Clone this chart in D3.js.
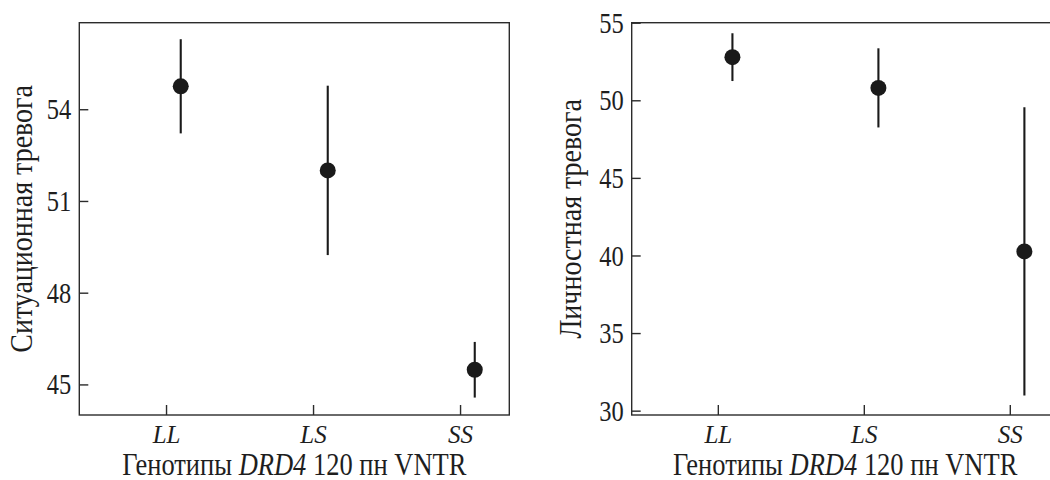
<!DOCTYPE html>
<html>
<head>
<meta charset="utf-8">
<script src="https://cdn.jsdelivr.net/npm/d3@7"></script>
<style>
  body { margin: 0; background: #fff; }
</style>
</head>
<body>
<div class="chart"></div>
<script>
// genotype groups
var genotypes = ["LL", "LS", "SS"];

// left panel: state anxiety
var stateMean = [54.75, 52.0, 45.48];
var stateErr = [1.54, 2.77, 0.91];
var stateTicks = [45, 48, 51, 54];

// right panel: trait anxiety
var traitMean = [52.78, 50.8, 40.26];
var traitErr = [1.54, 2.55, 9.29];
var traitTicks = [30, 35, 40, 45, 50, 55];

var FONT = "'Liberation Serif', 'Times New Roman', Times, 'DejaVu Serif', serif";
var W = 1050, H = 480;
var svg = d3.select('.chart').append('svg')
	.attr('width', W)
	.attr('height', H)
	.attr('font-family', FONT);

var drawPanel = function(p){
	var top = 22.7, bottom = 415;
	var g = svg.append('g').attr('transform', 'translate(' + p.left + ',' + top + ')');
	var h = bottom - top;

	var x = d3.scaleLinear().domain([-0.59, 2.335]).range([0, p.width]);
	var y = d3.scaleLinear().domain(p.domain).range([h, 0]);

	// frame
	g.append('rect')
		.attr('width', p.width)
		.attr('height', h)
		.style('fill', 'none')
		.style('stroke', '#2b2b2b')
		.style('stroke-width', 1.4);

	var yAxis = g.append('g')
		.call(d3.axisLeft(y).tickValues(p.ticks).tickSizeInner(-9).tickSizeOuter(0).tickPadding(8));
	var xAxis = g.append('g')
		.attr('transform', 'translate(0,' + h + ')')
		.call(d3.axisBottom(x).tickValues([0, 1, 2]).tickFormat(function(i){ return genotypes[i]; })
			.tickSizeInner(-10).tickSizeOuter(0).tickPadding(10));

	[yAxis, xAxis].forEach(function(a){
		a.attr('font-family', FONT);
		a.select('.domain').remove();
		a.selectAll('line').style('stroke', '#2b2b2b').style('stroke-width', 1.4);
		a.selectAll('text').style('fill', '#1e1e1e');
	});
	// tall serif digits like the printed figure
	yAxis.selectAll('text')
		.attr('font-size', 24.5)
		.attr('x', 0).attr('dy', '0.33em')
		.attr('transform', 'translate(-8,0) scale(1,1.18)');
	xAxis.selectAll('text')
		.attr('font-size', 25).style('font-style', 'italic')
		.attr('y', 27.5).attr('dy', 0);

	var data = genotypes.map(function(d, i){ return {i: i, m: p.mean[i], e: p.err[i]}; });

	g.selectAll('.err').data(data).enter()
		.append('line')
		.attr('x1', function(d){ return x(d.i + 0.1); })
		.attr('x2', function(d){ return x(d.i + 0.1); })
		.attr('y1', function(d){ return y(d.m + d.e); })
		.attr('y2', function(d){ return y(d.m - d.e); })
		.style('stroke', '#1a1a1a')
		.style('stroke-width', 2.1);

	g.selectAll('.pt').data(data).enter()
		.append('circle')
		.attr('cx', function(d){ return x(d.i + 0.1); })
		.attr('cy', function(d){ return y(d.m); })
		.attr('r', 8)
		.style('fill', '#1a1a1a');

	// axis titles
	var xt = g.append('text')
		.attr('transform', 'translate(' + (p.width / 2) + ',' + (h + 59.8) + ') scale(1,1.2)')
		.attr('text-anchor', 'middle')
		.attr('font-size', 26.5)
		.style('fill', '#1e1e1e');
	xt.append('tspan').text('Генотипы ');
	xt.append('tspan').style('font-style', 'italic').text('DRD4');
	xt.append('tspan').text(' 120 пн VNTR');

	g.append('text')
		.attr('transform', 'translate(' + p.titleX + ',' + (h / 2) + ') rotate(-90) scale(1,1.1)')
		.attr('text-anchor', 'middle')
		.attr('font-size', 28)
		.style('fill', '#1e1e1e')
		.text(p.title);
};

drawPanel({left: 79.3, width: 430, domain: [44.0, 56.83], ticks: stateTicks,
	mean: stateMean, err: stateErr, title: 'Ситуационная тревога', titleX: -47.5});
drawPanel({left: 631.7, width: 427, domain: [29.72, 55], ticks: traitTicks,
	mean: traitMean, err: traitErr, title: 'Личностная тревога', titleX: -50.3});
</script>
</body>
</html>
